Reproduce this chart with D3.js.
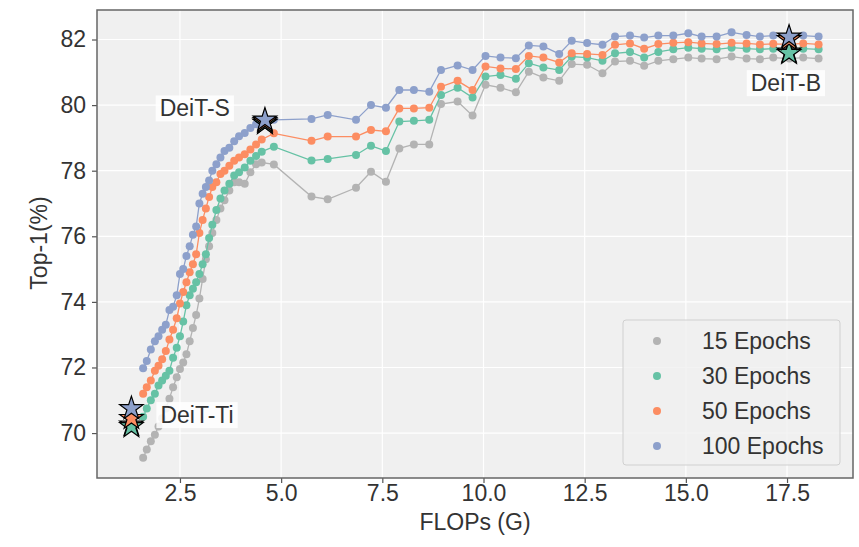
<!DOCTYPE html>
<html>
<head>
<meta charset="utf-8">
<script src="https://cdn.jsdelivr.net/npm/d3@7"></script>
<style>
  body { margin: 0; background: #fff; }
  text { font-family: "Liberation Sans", Arial, sans-serif; }
</style>
</head>
<body>
<div id="chart-area"></div>
<script>
// FLOPs (G) shared by all four runs
var flops = [1.59, 1.68, 1.78, 1.88, 1.97, 2.06, 2.15, 2.24, 2.33, 2.42, 2.5, 2.58, 2.66, 2.74, 2.82, 2.9,
    2.98, 3.06, 3.14, 3.22, 3.3, 3.4, 3.5, 3.6, 3.72, 3.84, 3.96, 4.1, 4.24, 4.38, 4.52, 4.82,
    5.75, 6.15, 6.85, 7.22, 7.59, 7.92, 8.28, 8.66, 8.95, 9.36, 9.73, 10.05, 10.42, 10.8, 11.12, 11.48,
    11.87, 12.18, 12.56, 12.94, 13.25, 13.62, 13.97, 14.32, 14.69, 15.06, 15.39, 15.76, 16.13, 16.5,
    16.83, 17.16, 17.56, 17.9, 18.28];

var top1_15 = [69.25, 69.5, 69.75, 69.95, 70.2, 70.45, 70.75, 71.05, 71.4, 71.7, 71.95, 72.15, 72.4, 72.8, 73.2, 73.6,
    74.1, 74.7, 75.3, 75.7, 76.1, 76.5, 76.85, 77.1, 77.4, 77.65, 77.65, 77.6, 77.95, 78.2, 78.25, 78.19,
    77.21, 77.13, 77.48, 77.97, 77.66, 78.68, 78.8, 78.8, 80.03, 80.11, 79.68, 80.62, 80.53, 80.39, 81.02, 80.84,
    80.74, 81.25, 81.23, 80.97, 81.33, 81.35, 81.2, 81.35, 81.4, 81.45, 81.42, 81.4, 81.48, 81.42,
    81.4, 81.45, 81.42, 81.45, 81.42];
var top1_30 = [70.5, 70.75, 71.0, 71.2, 71.45, 71.6, 71.75, 71.9, 72.3, 72.6, 72.95, 73.4, 73.9, 74.2, 74.4, 74.6,
    74.85, 75.15, 75.45, 75.95, 76.35, 76.8, 77.15, 77.4, 77.6, 77.85, 77.95, 78.1, 78.3, 78.45, 78.58, 78.73,
    78.31, 78.36, 78.48, 78.76, 78.6, 79.5, 79.52, 79.55, 80.31, 80.53, 80.23, 80.87, 80.92, 80.8, 81.28, 81.15,
    81.07, 81.48, 81.45, 81.35, 81.58, 81.62, 81.45, 81.62, 81.7, 81.75, 81.72, 81.7, 81.75, 81.72,
    81.7, 81.72, 81.68, 81.72, 81.7];
var top1_50 = [71.2, 71.4, 71.6, 71.9, 72.05, 72.25, 72.5, 72.85, 73.15, 73.5, 73.95, 74.3, 74.6, 74.9, 75.15, 75.45,
    76.1, 76.5, 76.85, 77.2, 77.5, 77.65, 77.9, 78.0, 78.15, 78.3, 78.4, 78.5, 78.65, 78.8, 78.95, 79.14,
    78.91, 79.04, 79.04, 79.24, 79.2, 79.9, 79.9, 79.92, 80.56, 80.74, 80.46, 81.18, 81.12, 81.1, 81.5, 81.45,
    81.3, 81.58, 81.56, 81.53, 81.84, 81.88, 81.72, 81.86, 81.9, 81.92, 81.88, 81.86, 81.9, 81.88,
    81.85, 81.87, 81.85, 81.88, 81.85];
var top1_100 = [71.98, 72.2, 72.55, 72.8, 72.95, 73.15, 73.3, 73.75, 73.85, 74.2, 74.85, 75.0, 75.4, 75.7, 76.05, 76.3,
    77.0, 77.3, 77.5, 77.7, 78.0, 78.2, 78.4, 78.6, 78.7, 78.9, 79.05, 79.15, 79.3, 79.42, 79.5, 79.55,
    79.58, 79.7, 79.55, 80.0, 79.92, 80.46, 80.46, 80.41, 81.07, 81.21, 81.07, 81.5, 81.45, 81.43, 81.82, 81.79,
    81.56, 81.96, 81.89, 81.84, 82.09, 82.12, 82.06, 82.12, 82.12, 82.19, 82.09, 82.09, 82.22, 82.14,
    82.09, 82.12, 82.05, 82.12, 82.09];

var runNames = ["15 Epochs", "30 Epochs", "50 Epochs", "100 Epochs"];
var runColors = ["#b3b3b3", "#66c2a5", "#fc8d62", "#8da0cb"];

// DeiT reference models
var deitNames = ["DeiT-Ti", "DeiT-S", "DeiT-B"];
var deitFlops = [1.3, 4.6, 17.55];
var deit15 = [70.25, 79.45, 81.62];
var deit30 = [70.2, 79.45, 81.58];
var deit50 = [70.45, 79.5, 82.0];
var deit100 = [70.75, 79.55, 82.08];

var xTicks = [2.5, 5.0, 7.5, 10.0, 12.5, 15.0, 17.5];
var yTicks = [70, 72, 74, 76, 78, 80, 82];

var runs = [top1_15, top1_30, top1_50, top1_100];
var deitRuns = [deit15, deit30, deit50, deit100];

var fontSize = "23px";

var margin = {top: 10, right: 6, bottom: 69, left: 97},
    width = 859 - margin.left - margin.right,
    height = 547 - margin.top - margin.bottom;

var svg = d3.select("#chart-area")
    .append("svg")
        .attr("width", 859)
        .attr("height", 547)
    .append("g")
        .attr("transform", "translate(" + margin.left + "," + margin.top + ")");

var x = d3.scaleLinear().domain([0.45, 19.13]).range([0, width]);
var y = d3.scaleLinear().domain([68.63, 82.9]).range([height, 0]);

svg.append("rect")
    .attr("width", width)
    .attr("height", height)
    .attr("fill", "#f0f0f0");

// grid
svg.append("g")
    .selectAll("line")
    .data(xTicks)
    .enter().append("line")
        .attr("x1", d => x(d)).attr("x2", d => x(d))
        .attr("y1", 0).attr("y2", height)
        .attr("stroke", "#fff").attr("stroke-width", 1.2);
svg.append("g")
    .selectAll("line")
    .data(yTicks)
    .enter().append("line")
        .attr("y1", d => y(d)).attr("y2", d => y(d))
        .attr("x1", 0).attr("x2", width)
        .attr("stroke", "#fff").attr("stroke-width", 1.2);

// axes
var xAxis = svg.append("g")
    .attr("transform", "translate(0," + height + ")")
    .call(d3.axisBottom(x).tickValues(xTicks).tickFormat(d3.format(".1f")).tickSize(5).tickPadding(2));
var yAxis = svg.append("g")
    .call(d3.axisLeft(y).tickValues(yTicks).tickFormat(d3.format("d")).tickSize(5).tickPadding(6));
[xAxis, yAxis].forEach(function(a) {
    a.select(".domain").remove();
    a.selectAll("line").attr("stroke", "#555").attr("stroke-width", 1.2);
    a.selectAll("text").attr("fill", "#333").style("font-size", fontSize)
        .style("font-family", "'Liberation Sans', Arial, sans-serif");
});

// series
var line = d3.line()
    .x((d, i) => x(flops[i]))
    .y(d => y(d));

runs.forEach(function(vals, k) {
    var g = svg.append("g").attr("class", "run-" + k);
    g.append("path")
        .datum(vals)
        .attr("fill", "none")
        .attr("stroke", runColors[k])
        .attr("stroke-width", 1.3);
    g.select("path").attr("d", line);
    g.selectAll("circle")
        .data(vals)
        .enter().append("circle")
            .attr("cx", (d, i) => x(flops[i]))
            .attr("cy", d => y(d))
            .attr("r", 4)
            .attr("fill", runColors[k]);
});

// DeiT stars
var star = d3.symbol().type(d3.symbolStar).size(170);
deitRuns.forEach(function(vals, k) {
    svg.append("g")
        .selectAll("path")
        .data(vals)
        .enter().append("path")
            .attr("transform", (d, i) => "translate(" + x(deitFlops[i]) + "," + y(d) + ")")
            .attr("d", star)
            .attr("fill", runColors[k])
            .attr("stroke", "#000")
            .attr("stroke-width", 1.2);
});

// DeiT labels with white boxes
var labelPos = [
    {x: x(deitFlops[0]) + 29, y: y(70.55), anchor: "start"},
    {x: x(deitFlops[1]) - 35, y: y(79.9), anchor: "end"},
    {x: x(deitFlops[2]) + 32, y: y(80.67), anchor: "end"}
];
deitNames.forEach(function(name, i) {
    var p = labelPos[i];
    var g = svg.append("g");
    var t = g.append("text")
        .attr("x", p.x)
        .attr("y", p.y)
        .attr("dy", "0.35em")
        .attr("text-anchor", p.anchor)
        .attr("fill", "#333")
        .style("font-size", fontSize)
        .text(name);
    var bb = t.node().getBBox();
    g.insert("rect", "text")
        .attr("x", bb.x - 4).attr("y", bb.y)
        .attr("width", bb.width + 8).attr("height", bb.height)
        .attr("fill", "#fff").attr("fill-opacity", 0.85);
});

// frame
svg.append("rect")
    .attr("width", width)
    .attr("height", height)
    .attr("fill", "none")
    .attr("stroke", "#666")
    .attr("stroke-width", 1.5);

// legend
var legend = svg.append("g")
    .attr("transform", "translate(" + (width - 230) + "," + (height - 158) + ")");
legend.append("rect")
    .attr("width", 217).attr("height", 145)
    .attr("rx", 3)
    .attr("fill", "#f0f0f0").attr("fill-opacity", 0.8)
    .attr("stroke", "#d0d0d0").attr("stroke-width", 1);
runNames.forEach(function(name, k) {
    legend.append("circle")
        .attr("cx", 34).attr("cy", 21 + k * 35)
        .attr("r", 4)
        .attr("fill", runColors[k]);
    legend.append("text")
        .attr("x", 79).attr("y", 21 + k * 35)
        .attr("dy", "0.35em")
        .attr("fill", "#333")
        .style("font-size", fontSize)
        .text(name);
});

// axis labels
svg.append("text")
    .attr("x", width / 2)
    .attr("y", height + 52)
    .attr("text-anchor", "middle")
    .attr("fill", "#333")
    .style("font-size", fontSize)
    .text("FLOPs (G)");
svg.append("text")
    .attr("transform", "rotate(-90)")
    .attr("x", -height / 2 + 1)
    .attr("y", -50)
    .attr("text-anchor", "middle")
    .attr("fill", "#333")
    .style("font-size", fontSize)
    .text("Top-1(%)");
</script>
</body>
</html>
